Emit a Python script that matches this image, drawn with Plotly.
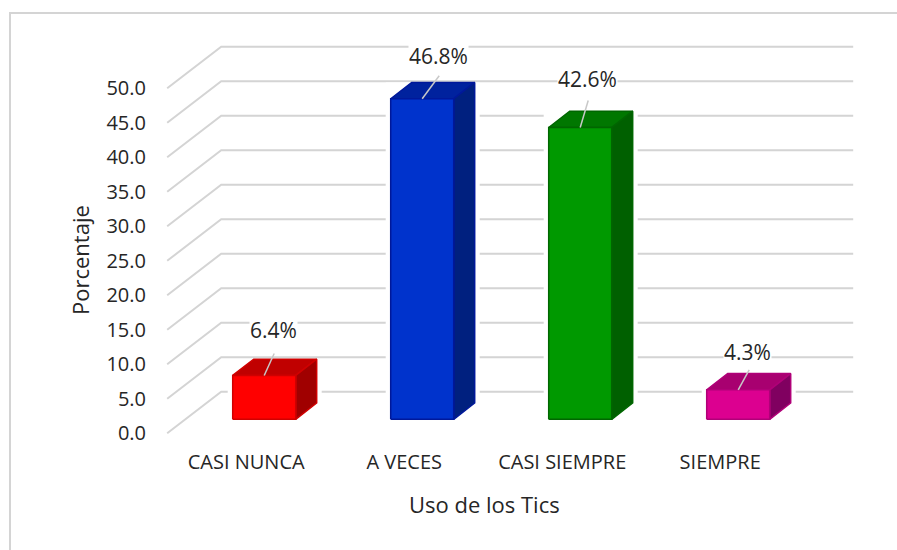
"""Barras 3D del uso de los Tics."""

import plotly.graph_objects as go

categories = ["CASI NUNCA", "A VECES", "CASI SIEMPRE", "SIEMPRE"]
values = [6.4, 46.8, 42.6, 4.3]
value_labels = ["6.4%", "46.8%", "42.6%", "4.3%"]
y_ticks = [0, 5, 10, 15, 20, 25, 30, 35, 40, 45, 50]

front_colors = ["#FF0000", "#0033CC", "#009900", "#DC0090"]
top_colors = ["#C00000", "#00229E", "#007700", "#A80070"]
side_colors = ["#A00000", "#00207F", "#006000", "#800060"]
edge_colors = ["#D00000", "#00189A", "#006600", "#B00078"]

# Escala: 1 categoria = 158 px, 1 unidad = 6.9 px
X_PX = 158.0
Y_PX = 6.9
WALL_DX, WALL_DY = 54 / X_PX, 41.6 / Y_PX  # fondo del grafico
BAR_DX, BAR_DY = 18 / X_PX, 14 / Y_PX  # plano frontal de las barras
DEPTH_DX, DEPTH_DY = 21 / X_PX, 16.3 / Y_PX  # profundidad de la barra
BAR_W = 63 / X_PX
BAR_SCALE = 6.85 / 6.9  # las barras quedan algo mas bajas que la rejilla
X_MIN, X_MAX = -0.5, 3.5
GAP = 5 / X_PX

# Desplazamiento de cada etiqueta respecto a la barra (px)
LABEL_DX = [9, 16, 7, 9]
LABEL_DY = [45, 43, 48, 38]
LEADER_DX = [10, 17, 8, 11]
LEADER_DY = [22, 23, 27, 20]

fig = go.Figure()


def polygon(xs, ys, fill, line=None):
    fig.add_trace(
        go.Scatter(
            x=xs + xs[:1],
            y=ys + ys[:1],
            mode="lines",
            fill="toself",
            fillcolor=fill,
            line=dict(color=line or fill, width=1.5 if line else 0),
            hoverinfo="skip",
        )
    )


# Lineas de division: piso/pared lateral y pared del fondo
for t in y_ticks:
    fig.add_trace(
        go.Scatter(
            x=[X_MIN, X_MIN + WALL_DX, X_MAX + WALL_DX],
            y=[t, t + WALL_DY, t + WALL_DY],
            mode="lines",
            line=dict(color="#D4D4D4", width=2),
            hoverinfo="skip",
        )
    )

for i, v in enumerate(values):
    x0 = i - BAR_W / 2 + BAR_DX
    x1 = x0 + BAR_W
    y0 = BAR_DY
    y1 = v * BAR_SCALE + BAR_DY

    # hueco blanco que corta las lineas a los lados de la barra
    polygon(
        [x0 - GAP, x1 + DEPTH_DX + GAP, x1 + DEPTH_DX + GAP, x0 - GAP],
        [y0, y0, y1 + DEPTH_DY, y1 + DEPTH_DY],
        "#FFFFFF",
    )
    polygon(
        [x0, x1, x1 + DEPTH_DX, x0 + DEPTH_DX],
        [y1, y1, y1 + DEPTH_DY, y1 + DEPTH_DY],
        top_colors[i],
        edge_colors[i],
    )
    polygon(
        [x1, x1 + DEPTH_DX, x1 + DEPTH_DX, x1],
        [y0, y0 + DEPTH_DY, y1 + DEPTH_DY, y1],
        side_colors[i],
        edge_colors[i],
    )
    polygon([x0, x1, x1, x0], [y0, y0, y1, y1], front_colors[i], edge_colors[i])

    # linea guia y etiqueta de datos
    xm = (x0 + x1) / 2
    fig.add_trace(
        go.Scatter(
            x=[xm, xm + LEADER_DX[i] / X_PX],
            y=[y1, y1 + LEADER_DY[i] / Y_PX],
            mode="lines",
            line=dict(color="#C8C8C8", width=1.5),
            hoverinfo="skip",
        )
    )
    fig.add_annotation(
        x=xm + LABEL_DX[i] / X_PX,
        y=y1 + LABEL_DY[i] / Y_PX,
        text=value_labels[i],
        showarrow=False,
        bgcolor="#FFFFFF",
        font=dict(family="Open Sans", size=21, color="#262626"),
        borderpad=0,
    )

# Titulos de los ejes
fig.add_annotation(
    x=484 / 897,
    y=(550 - 504) / 550,
    xref="paper",
    yref="paper",
    xanchor="center",
    yanchor="middle",
    text="Uso de los Tics",
    showarrow=False,
    font=dict(size=22),
)
fig.add_annotation(
    x=80 / 897,
    y=(550 - 260) / 550,
    xref="paper",
    yref="paper",
    xanchor="center",
    yanchor="middle",
    text="Porcentaje",
    textangle=-90,
    showarrow=False,
    font=dict(size=22),
)

fig.update_layout(
    width=897,
    height=550,
    margin=dict(l=0, r=0, t=0, b=0, autoexpand=False),
    paper_bgcolor="#FFFFFF",
    plot_bgcolor="#FFFFFF",
    showlegend=False,
    font=dict(family="Open Sans", color="#262626"),
    xaxis=dict(
        domain=[147 / 897, 870 / 897],
        range=[(147 - 246.2) / X_PX, (870 - 246.2) / X_PX],
        tickmode="array",
        tickvals=list(range(len(categories))),
        ticktext=categories,
        tickfont=dict(size=20),
        ticklabelstandoff=2,
        showgrid=False,
        zeroline=False,
        showline=False,
        ticks="",
    ),
    yaxis=dict(
        domain=[(550 - 446) / 550, (550 - 30) / 550],
        range=[(433.3 - 446) / Y_PX, (433.3 - 30) / Y_PX],
        tickmode="array",
        tickvals=y_ticks,
        ticktext=[f"{t:.1f}" for t in y_ticks],
        tickfont=dict(size=20),
        showgrid=False,
        zeroline=False,
        showline=False,
        ticks="",
    ),
)

# Marco exterior del area del grafico
fig.add_shape(
    type="rect",
    xref="paper",
    yref="paper",
    x0=10 / 897,
    x1=1.05,
    y0=-0.05,
    y1=(550 - 13) / 550,
    line=dict(color="#D4D4D4", width=2),
    layer="below",
)

fig.write_html(
    "out.html",
    config=dict(displayModeBar=False),
    post_script="document.body.style.margin='0';",
)
